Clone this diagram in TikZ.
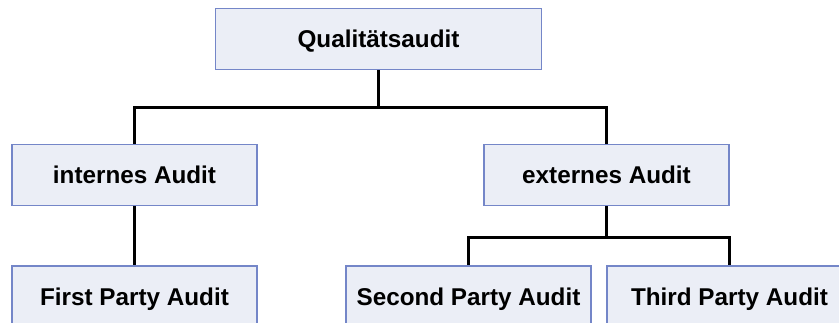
\documentclass[tikz,border=0pt]{standalone}
\usepackage{fontspec}
\setmainfont{Liberation Sans}
\definecolor{boxfill}{HTML}{EBEEF6}
\definecolor{boxdraw}{HTML}{7486C8}
\begin{document}
\begin{tikzpicture}[x=0.75pt,y=-0.75pt,
  box/.style={draw=boxdraw,fill=boxfill,line width=1.1pt,minimum width=245*0.75pt,minimum height=61*0.75pt,inner sep=0pt,text height=13pt,text depth=0pt,font=\fontsize{18.2}{20}\selectfont\bfseries},
  link/.style={line width=2.2pt,black}]
\useasboundingbox (0,0) rectangle (839,322);
\clip (0,0) rectangle (839,322);
\node[box,minimum width=326*0.75pt] (q) at (378.5,39) {Qualitätsaudit};
\node[box] (i) at (134.5,175) {internes Audit};
\node[box] (e) at (606.5,175) {externes Audit};
\node[box] (f) at (134.5,296.5) {First Party Audit};
\node[box] (s) at (468.5,296.5) {Second Party Audit};
\node[box] (t) at (729.5,296.5) {Third Party Audit};
\draw[link] (q.south) -- ++(0,37) -| (i.north);
\draw[link] (q.south) ++(0,37) -| (e.north);
\draw[link] (i.south) -- (f.north);
\draw[link] (e.south) -- ++(0,31) -| (s.north);
\draw[link] (e.south) ++(0,31) -| (t.north);
\end{tikzpicture}
\end{document}
